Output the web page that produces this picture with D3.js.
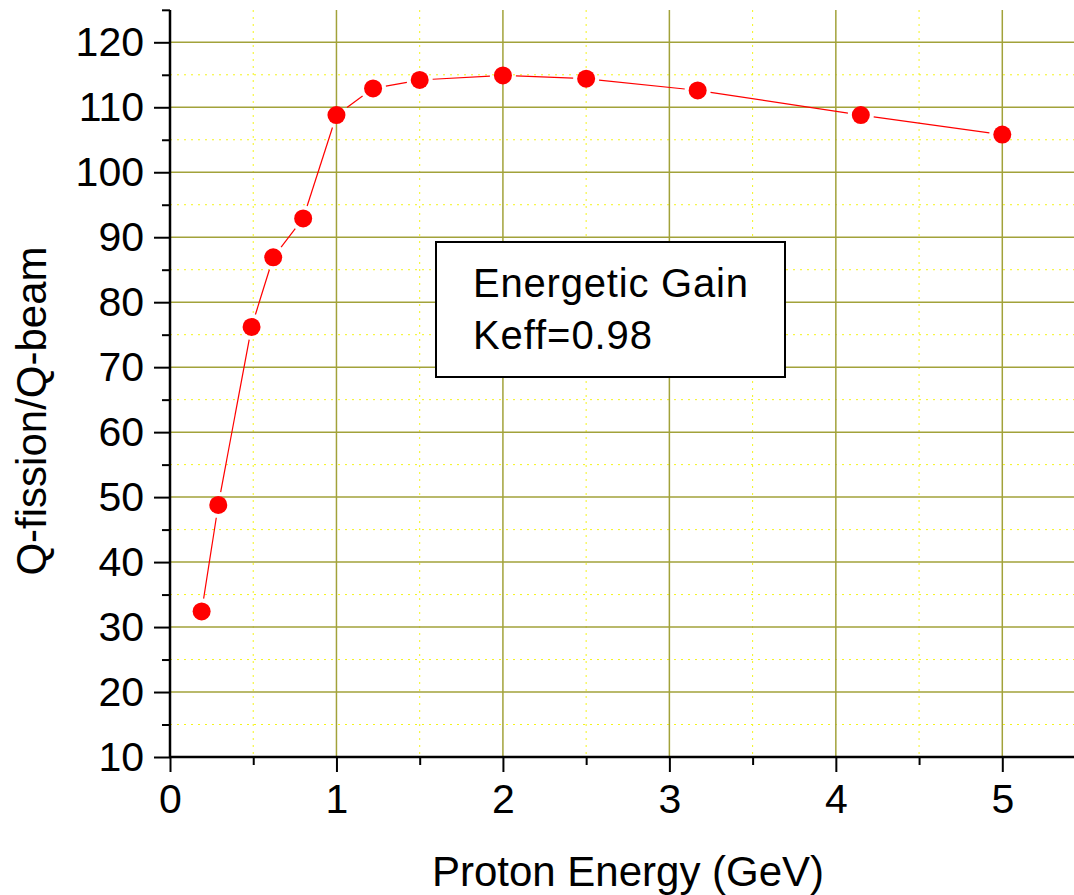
<!DOCTYPE html>
<html>
<head>
<meta charset="utf-8">
<script src="https://cdn.jsdelivr.net/npm/d3@7"></script>
<style>
  body { margin: 0; background: #fff; }
  svg { display: block; font-family: "Liberation Sans", Arial, sans-serif; }
</style>
</head>
<body>
<div id="chart"></div>
<script>
// Data
const energy = [0.19, 0.29, 0.49, 0.62, 0.8, 1.0, 1.22, 1.5, 2.0, 2.5, 3.17, 4.15, 5.0];
const gain   = [32.4, 48.8, 76.2, 86.9, 92.9, 108.8, 112.9, 114.2, 114.9, 114.4, 112.6, 108.8, 105.8];
const xTicks = [0, 1, 2, 3, 4, 5];
const xMinor = [0.5, 1.5, 2.5, 3.5, 4.5];
const yTicks = [10, 20, 30, 40, 50, 60, 70, 80, 90, 100, 110, 120];
const yMinor = [15, 25, 35, 45, 55, 65, 75, 85, 95, 105, 115, 125];
const boxLines = ["Energetic Gain", "Keff=0.98"];

const W = 1074, H = 895;
const plotLeft = 170, plotRight = 1074, plotTop = 10, plotBottom = 757;

const svg = d3.select("#chart").append("svg")
  .attr("width", W)
  .attr("height", H);

const x = d3.scaleLinear().domain([0, 5]).range([plotLeft, 1002.3]);
const y = d3.scaleLinear().domain([10, 120]).range([plotBottom, 42.3]);

// minor grid (dotted yellow)
const grid = svg.append("g");
grid.selectAll(".vminor").data(xMinor).enter().append("line")
  .attr("x1", d => x(d)).attr("x2", d => x(d))
  .attr("y1", plotTop).attr("y2", plotBottom)
  .attr("stroke", "#f4f41c").attr("stroke-width", 1)
  .attr("stroke-dasharray", "2,5");
grid.selectAll(".hminor").data(yMinor.filter(d => d < 125)).enter().append("line")
  .attr("x1", plotLeft).attr("x2", plotRight)
  .attr("y1", d => y(d)).attr("y2", d => y(d))
  .attr("stroke", "#f4f41c").attr("stroke-width", 1)
  .attr("stroke-dasharray", "2,5");

// major grid (olive)
grid.selectAll(".vmajor").data(xTicks.slice(1)).enter().append("line")
  .attr("x1", d => x(d)).attr("x2", d => x(d))
  .attr("y1", plotTop).attr("y2", plotBottom)
  .attr("stroke", "#a2a23a").attr("stroke-width", 1.5);
grid.selectAll(".hmajor").data(yTicks.slice(1)).enter().append("line")
  .attr("x1", plotLeft).attr("x2", plotRight)
  .attr("y1", d => y(d)).attr("y2", d => y(d))
  .attr("stroke", "#a2a23a").attr("stroke-width", 1.5);

// axes
const xAxis = svg.append("g").attr("transform", `translate(0,${plotBottom})`);
xAxis.call(d3.axisBottom(x).tickValues(xTicks).tickSize(15).tickPadding(12).tickFormat(d3.format("d")));
xAxis.append("g").call(d3.axisBottom(x).tickValues(xMinor).tickSize(8).tickFormat(""));
xAxis.selectAll(".domain").remove();
xAxis.append("line").attr("x1", plotLeft - 1).attr("x2", plotRight).attr("stroke", "#000").attr("stroke-width", 2.5);

const yAxis = svg.append("g").attr("transform", `translate(${plotLeft},0)`);
yAxis.call(d3.axisLeft(y).tickValues(yTicks).tickSize(16).tickPadding(10));
yAxis.append("g").call(d3.axisLeft(y).tickValues(yMinor).tickSize(8).tickFormat(""));
yAxis.selectAll(".domain").remove();
yAxis.append("line").attr("y1", plotTop).attr("y2", plotBottom + 1).attr("stroke", "#000").attr("stroke-width", 2.5);

svg.selectAll(".tick line").attr("stroke", "#000").attr("stroke-width", 2);
svg.selectAll(".tick text").attr("fill", "#000").attr("font-size", 41)
  .attr("font-family", "'Liberation Sans', Arial, sans-serif");

// axis titles
svg.append("text")
  .attr("x", (plotLeft + 1002) / 2 + 42).attr("y", 886)
  .attr("text-anchor", "middle").attr("font-size", 42)
  .text("Proton Energy (GeV)");
svg.append("text")
  .attr("transform", "translate(46,411) rotate(-90)")
  .attr("text-anchor", "middle").attr("font-size", 42)
  .text("Q-fission/Q-beam");

// data line with gaps around markers
const pts = energy.map((e, i) => [x(e), y(gain[i])]);
const gap = 13;
const segs = [];
for (let i = 0; i < pts.length - 1; i++) {
  const [x0, y0] = pts[i], [x1, y1] = pts[i + 1];
  const len = Math.hypot(x1 - x0, y1 - y0);
  if (len <= gap * 2) continue;
  const ux = (x1 - x0) / len, uy = (y1 - y0) / len;
  segs.push([[x0 + ux * gap, y0 + uy * gap], [x1 - ux * gap, y1 - uy * gap]]);
}
svg.append("g").selectAll("path").data(segs).enter().append("path")
  .attr("d", d3.line())
  .attr("fill", "none")
  .attr("stroke", "#ff0000")
  .attr("stroke-width", 1.2);

svg.append("g").selectAll("circle").data(energy).enter().append("circle")
  .attr("cx", d => x(d))
  .attr("cy", (d, i) => y(gain[i]))
  .attr("r", 9)
  .attr("fill", "#ff0000");

// annotation box
const box = svg.append("g");
box.append("rect")
  .attr("x", 436).attr("y", 242).attr("width", 349).attr("height", 135)
  .attr("fill", "#fff").attr("stroke", "#000").attr("stroke-width", 2);
box.selectAll("text").data(boxLines).enter().append("text")
  .attr("x", 473).attr("y", (d, i) => 297 + i * 52)
  .attr("font-size", 40)
  .attr("textLength", (d, i) => i === 0 ? 275 : 179)
  .text(d => d);
</script>
</body>
</html>
